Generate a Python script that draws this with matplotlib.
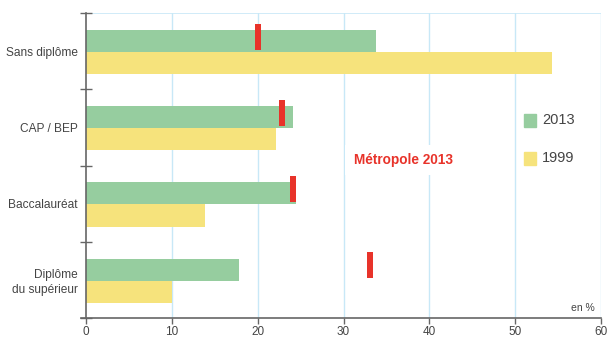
import matplotlib
matplotlib.use("Agg")
import matplotlib.pyplot as plt
import numpy as np

categories = ["Sans diplôme", "CAP / BEP", "Baccalauréat", "Diplôme\ndu supérieur"]
values_2013 = [33.8, 24.1, 24.5, 17.8]
values_1999 = [54.3, 22.1, 13.9, 10.0]
metropole_2013 = [20.0, 22.8, 24.1, 33.1]
series_labels = ["2013", "1999"]
x_ticks = [0, 10, 20, 30, 40, 50, 60]

GREEN = "#96cd9f"
YELLOW = "#f6e37c"
RED = "#e8332a"
GRID = "#c8e8f7"
AXIS = "#666666"
TEXT = "#444444"

plt.rcParams["font.family"] = ["Liberation Sans", "DejaVu Sans"]

fig = plt.figure(figsize=(6.09, 3.40), dpi=100)
ax = fig.add_axes([86 / 609, 22 / 340, 515 / 609, 305 / 340])

idx = np.arange(len(categories))
bar_h = 0.29
ax.barh(idx + 0.365, values_2013, height=bar_h, color=GREEN, zorder=2)
ax.barh(idx + 0.655, values_1999, height=bar_h, color=YELLOW, zorder=2)

# Metropole reference markers: short red bars centred on the value
mw = 0.7
ax.barh(idx + 0.31, [mw] * len(idx), left=np.array(metropole_2013) - mw / 2,
        height=0.34, color=RED, zorder=3)

ax.set_xlim(0, 60)
ax.set_ylim(4, 0)

ax.set_xticks(x_ticks)
ax.set_xticklabels([str(t) for t in x_ticks], color=TEXT, fontsize=8.5)
for x in x_ticks[1:]:
    ax.axvline(x, color=GRID, lw=1, zorder=1)
ax.axhline(0, color=GRID, lw=1.2, zorder=1)

ax.set_yticks(np.arange(0, 5))
ax.set_yticklabels([])
ax.set_yticks(idx + 0.5, minor=True)
ax.set_yticklabels(categories, minor=True, fontsize=8.6, color=TEXT,
                   linespacing=1.25)
ax.tick_params(axis="y", which="minor", length=0, pad=6)
ax.tick_params(axis="y", which="major", direction="inout", length=8,
               width=1, color=AXIS)
ax.tick_params(axis="x", direction="out", length=4, width=1, color=AXIS, pad=2)

for s in ["top", "right"]:
    ax.spines[s].set_visible(False)
ax.spines["left"].set_color(AXIS)
ax.spines["left"].set_linewidth(1.2)
ax.spines["bottom"].set_color(AXIS)
ax.spines["bottom"].set_linewidth(1.2)
ax.spines["bottom"].set_bounds(-0.6, 60)

# Legend drawn as squares + labels
for i, (lab, col) in enumerate(zip(series_labels, [GREEN, YELLOW])):
    yc = 120.5 + i * 38
    fig.patches.append(plt.Rectangle((524 / 609, (340 - yc - 6.5) / 340), 12 / 609, 13 / 340,
                                     transform=fig.transFigure, color=col))
    fig.text(542 / 609, (340 - yc) / 340, lab, fontsize=10.5, color=TEXT,
             va="center", ha="left")

ax.text(403 / 609, (340 - 160) / 340, "Métropole 2013", transform=fig.transFigure,
        fontsize=9.8, fontweight="bold", color=RED, ha="center", va="center",
        bbox=dict(facecolor="white", edgecolor="none", pad=6), zorder=4)

fig.text(595 / 609, (340 - 308) / 340, "en %", fontsize=7.5, color=TEXT,
         ha="right", va="center")

fig.savefig("out.png", dpi=100)
